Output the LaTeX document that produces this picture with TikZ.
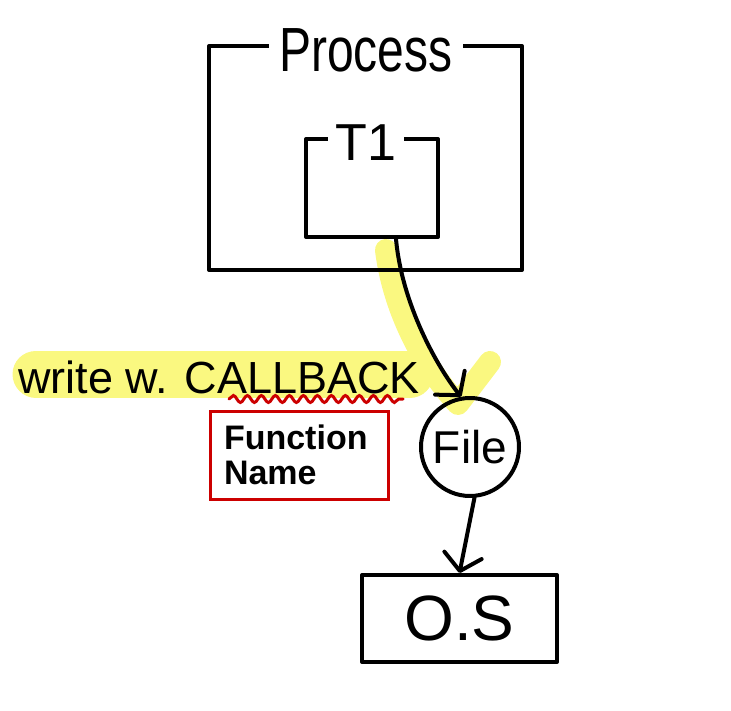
\documentclass[tikz,border=0pt]{standalone}
\usepackage{fontspec}
\setmainfont{Liberation Sans}
\usetikzlibrary{arrows.meta,decorations.pathmorphing}
\definecolor{hl}{RGB}{250,248,128}
\definecolor{inkred}{RGB}{204,0,0}
\tikzset{
  ink/.style={line width=4pt, black, line cap=round, line join=round},
  boxnode/.style={ink, draw, rectangle, inner sep=0pt},
  titlenode/.style={fill=white, inner xsep=10pt, inner ysep=0pt},
  arr/.style={ink, -{Straight Barb[length=16pt,width=38pt,line cap=round,line join=round]}},
  marker/.style={line width=22pt, hl, line cap=round, line join=round},
}
\begin{document}
\begin{tikzpicture}[x=1pt,y=-1pt]
\useasboundingbox (0,0) rectangle (731,711);
% highlights
\draw[marker, line width=47pt] (36,374) -- (410,374);
\draw[marker] (386,250) .. controls (394,315) and (428,372) .. (458,404) -- (490,362);
% process box
\node[boxnode, minimum width=313pt, minimum height=224pt] (procbox) at (365.5,158) {};
\node[titlenode, font=\fontsize{48}{48}\selectfont] (proc) at (366,50) {\scalebox{1}[1.3]{Process}};
% thread box
\node[boxnode, minimum width=132pt, minimum height=98pt] (t1box) at (372,188) {};
\node[titlenode, font=\fontsize{52}{52}\selectfont, inner xsep=8pt] (t1) at (366,143) {T1};
% file
\node[ink, draw, circle, minimum size=98pt, inner sep=0pt, font=\fontsize{46}{46}\selectfont] (file) at (470,447) {File};
% OS
\node[boxnode, minimum width=195pt, minimum height=87pt, font=\fontsize{64}{64}\selectfont] (os) at (459.5,618.5) {O.S};
% labels
\node[anchor=base west, inner sep=0pt, font=\fontsize{45}{45}\selectfont] (write) at (18,393) {write w. CALLBACK};
\draw[inkred, line width=3pt, line cap=round, decorate, decoration={snake, segment length=14pt, amplitude=3.5pt}] (229,399) -- (403,399);
\node[draw=inkred, line width=3pt, rectangle, minimum width=178pt, minimum height=88pt, text width=150pt, inner xsep=14pt, align=left, font=\fontsize{34}{35}\selectfont\bfseries] (fn) at (299,455) {Function\\Name};
% connectors
\coordinate (t1out) at ([xshift=24pt]t1box.south);
\draw[arr] (t1out) .. controls (402,305) and (438,368) .. (file.100);
\draw[arr] (file.275) -- (os.north);
\end{tikzpicture}
\end{document}
